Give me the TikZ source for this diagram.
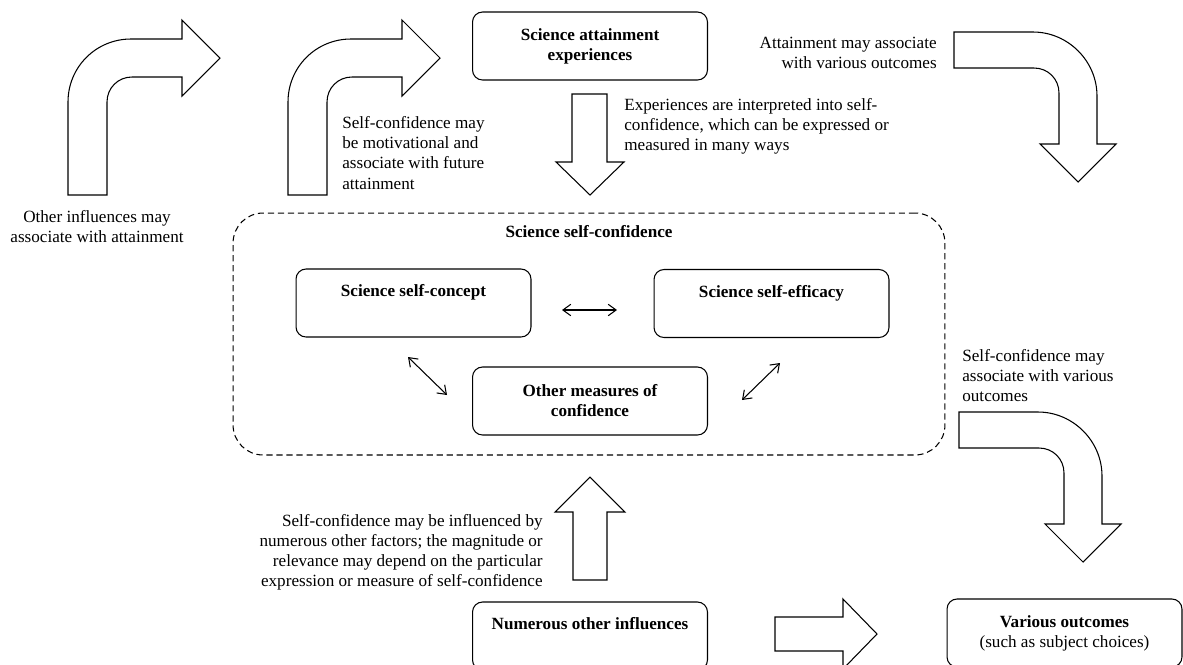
\documentclass[tikz,border=0pt]{standalone}
\usepackage{fontspec}
\setmainfont{Liberation Serif}
\usetikzlibrary{arrows.meta}

\tikzset{
	box/.style={draw, line width=0.6pt, rounded corners=0.2cm, minimum width=4.7cm, minimum height=1.36cm, align=center, inner sep=2pt},
	headbox/.style={box, font=\bfseries, text height=7pt, text depth=14pt},
	note/.style={inner sep=0pt},
	block/.style={draw, line width=0.6pt},
	dbl/.style={{Straight Barb[length=4.5pt,width=6.5pt]}-{Straight Barb[length=4.5pt,width=6.5pt]}, line width=0.6pt}
}

\begin{document}
\fontsize{9.75}{11.4}\selectfont
\begin{tikzpicture}[x=0.02cm, y=-0.02cm]
	\useasboundingbox (0,0) rectangle (1183,664);
	\clip (0,0) rectangle (1183,664);

	%BOXES
	\node[box, font=\bfseries] (attain) at (590,46) {Science attainment\\experiences};
	\node[draw, dashed, dash pattern=on 3.5pt off 2.2pt, line width=0.6pt, rounded corners=0.6cm, minimum width=14.24cm, minimum height=4.84cm] (conf) at (589,334) {};
	\node[font=\bfseries] (conftitle) at (589,232) {Science self-confidence};
	\node[headbox] (concept) at (413.5,303) {Science self-concept};
	\node[headbox] (efficacy) at (771.5,303.5) {Science self-efficacy};
	\node[box, font=\bfseries] (othmeas) at (590,401) {Other measures of\\confidence};
	\node[headbox] (numer) at (590,636) {Numerous other influences};
	\node[box] (outcomes) at (1064.5,633) {\textbf{Various outcomes}\\(such as subject choices)};

	%bent arrows, upward then right
	\foreach \d in {0,220}
	\draw[block, shift={(\d,0)}] (68,195) -- (68,102) .. controls (68,67) and (96,39) .. (131,39) -- (182,39) -- (182,20) -- (220,58) -- (182,96) -- (182,77) -- (132,77) .. controls (118,77) and (107,88) .. (107,102) -- (107,195) -- cycle;

	%bent arrows, right then downward
	\foreach \dx/\dy in {0/0,5/380}
	\draw[block, shift={(\dx,\dy)}] (954,32) -- (1033,32) .. controls (1068,32) and (1097,61) .. (1097,96) -- (1097,144) -- (1116,144) -- (1078,182) -- (1040,144) -- (1059,144) -- (1059,93) .. controls (1059,79) and (1048,68) .. (1034,68) -- (954,68) -- cycle;

	\draw[block] (572,94) -- (607,94) -- (607,162) -- (624,162) -- (590,195) -- (556,162) -- (572,162) -- cycle;	%down
	\draw[block] (573,580) -- (573,512) -- (555,512) -- (590,477) -- (625,512) -- (607,512) -- (607,580) -- cycle;	%up
	\draw[block] (775,617) -- (843,617) -- (843,599) -- (877,634) -- (843,669) -- (843,651) -- (775,651) -- cycle;	%right

	%LABELS
	\node[note, align=center] (infl) at (97,227) {Other influences may\\associate with attainment};
	\node[note, align=left, anchor=west] (motiv) at (342,153) {Self-confidence may\\be motivational and\\associate with future\\attainment};
	\node[note, align=left, anchor=west] (interp) at (624,126) {Experiences are interpreted into self-\\confidence, which can be expressed or\\measured in many ways};
	\node[note, align=right, anchor=east] (attout) at (937,53) {Attainment may associate\\with various outcomes};
	\node[note, align=left, anchor=west] (confout) at (962,376) {Self-confidence may\\associate with various\\outcomes};
	\node[note, align=right, anchor=east] (factors) at (543,552) {Self-confidence may be influenced by\\numerous other factors; the magnitude or\\relevance may depend on the particular\\expression or measure of self-confidence};

	%links inside the frame
	\coordinate (hl) at (562,310);
	\coordinate (hr) at (617,310);
	\coordinate (ll) at (408,357);
	\coordinate (lr) at (447,395);
	\coordinate (rl) at (742,400);
	\coordinate (rr) at (780,363);
	\draw[dbl] (hl) -- (hr);
	\draw[dbl] (ll) -- (lr);
	\draw[dbl] (rl) -- (rr);
	%\draw[help lines,red,step=50] (0,0) grid (1183,664);
\end{tikzpicture}
\end{document}
